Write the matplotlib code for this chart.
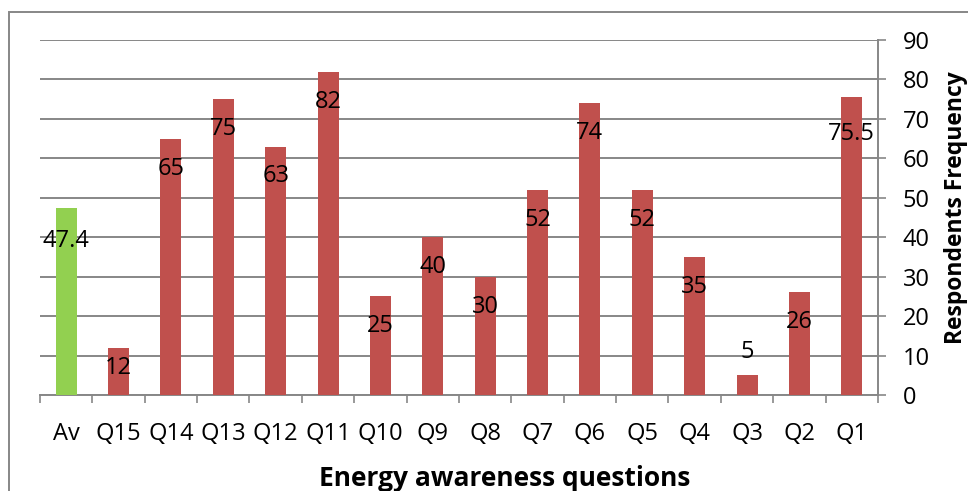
import numpy as np
import matplotlib.pyplot as plt
from matplotlib.patches import Rectangle

questions = ["Av", "Q15", "Q14", "Q13", "Q12", "Q11", "Q10", "Q9", "Q8",
             "Q7", "Q6", "Q5", "Q4", "Q3", "Q2", "Q1"]
frequency = [47.4, 12, 65, 75, 63, 82, 25, 40, 30, 52, 74, 52, 35, 5, 26, 75.5]
value_labels = ["47.4", "12", "65", "75", "63", "82", "25", "40", "30",
                "52", "74", "52", "35", "5", "26", "75.5"]

plt.rcParams['font.family'] = ['Open Sans', 'DejaVu Sans']

red = "#C0504D"
green = "#92D050"
grey = "#878787"

fig = plt.figure(figsize=(9.68, 4.91), dpi=100)
ax = fig.add_axes([40 / 968, 1 - 395 / 491, (878 - 40) / 968, (395 - 40) / 491])

x = np.arange(len(questions))
colors = [green] + [red] * (len(questions) - 1)
ax.bar(x, frequency, width=0.4, color=colors, zorder=3)

# labels sit inside the bar top, a few are nudged by hand (pixels)
px = 72 / 100
label_shift = {"12": -20, "5": 23, "75.5": -37, "47.4": -33}
for xi, v, lab in zip(x, frequency, value_labels):
    dy = label_shift.get(lab, -30)
    ax.annotate(lab, (xi, v), xytext=(0, dy * px), textcoords="offset points",
                ha="center", va="center", fontsize=17, color="black", zorder=4)

ax.set_xlim(-0.5, len(questions) - 0.5)
ax.set_ylim(0, 90)

ax.yaxis.tick_right()
ax.yaxis.set_label_position("right")
ax.set_yticks(np.arange(0, 91, 10))
ax.tick_params(axis="y", length=8 * px, width=1.2, color=grey, direction="out",
               labelsize=17, pad=17 * px)
for t in ax.get_yticklabels():
    t.set_horizontalalignment("left")
ax.yaxis.grid(True, color=grey, linewidth=1.4, zorder=0)

ax.set_xticks(x)
ax.set_xticklabels(questions, fontsize=17)
ax.set_xticks(np.arange(-0.5, len(questions)), minor=True)
ax.tick_params(axis="x", which="major", length=0, pad=27 * px)
ax.tick_params(axis="x", which="minor", length=8 * px, width=1.2, color=grey,
               direction="out")

for side in ["top", "left"]:
    ax.spines[side].set_visible(False)
for side in ["right", "bottom"]:
    ax.spines[side].set_color(grey)
    ax.spines[side].set_linewidth(1.4)

ax.set_xlabel("Energy awareness questions", fontsize=19, fontweight="bold",
              labelpad=14)
ax.xaxis.label.set_x(0.554)
ax.set_ylabel("Respondents Frequency", fontsize=16.5, fontweight="bold",
              labelpad=10)
ax.yaxis.label.set_y(0.528)

# chart frame, runs off the right and bottom of the image
fig.add_artist(Rectangle((9 / 968, -0.2), 1.2, 1.2 - 12 / 491,
                         transform=fig.transFigure, fill=False,
                         edgecolor=grey, linewidth=1.4))

fig.savefig("out.png", dpi=100)
